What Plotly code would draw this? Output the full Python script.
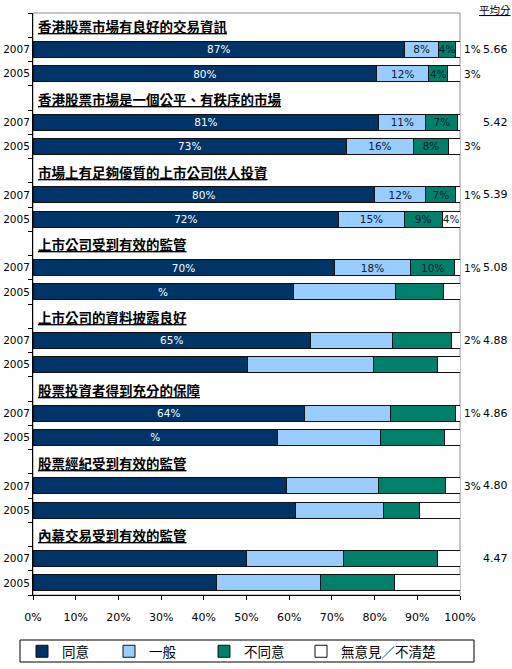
import plotly.graph_objects as go

# ---------------- data ----------------
titles = [
    "香港股票市場有良好的交易資訊",
    "香港股票市場是一個公平、有秩序的市場",
    "市場上有足夠優質的上市公司供人投資",
    "上市公司受到有效的監管",
    "上市公司的資料披露良好",
    "股票投資者得到充分的保障",
    "股票經紀受到有效的監管",
    "內幕交易受到有效的監管",
]
years = ["2007", "2005"]
series_names = ["同意", "一般", "不同意", "無意見／不清楚"]

agree_2007 = [87, 81, 80, 70.5, 65, 63.6, 59.4, 50]
neutral_2007 = [8, 11, 12, 18, 19.3, 20.2, 21.5, 22.8]
disagree_2007 = [4, 7.5, 7, 10.2, 13.7, 15.1, 15.7, 21.9]
noop_2007 = [1, 0.5, 1, 1.3, 2, 1.1, 3.4, 5.3]

agree_2005 = [80.5, 73.4, 71.6, 60.9, 50.2, 57.3, 61.5, 43]
neutral_2005 = [12.2, 15.7, 15.3, 24, 29.5, 24, 20.5, 24.3]
disagree_2005 = [4.4, 8.2, 8.9, 11.2, 15, 15, 8.5, 17.3]
noop_2005 = [2.9, 2.7, 4.2, 3.9, 5.3, 3.7, 9.5, 15.4]

agree_text_2007 = ["87%", "81%", "80%", "70%", "65%", "64%", "", ""]
neutral_text_2007 = ["8%", "11%", "12%", "18%", "", "", "", ""]
disagree_text_2007 = ["4%", "7%", "7%", "10%", "", "", "", ""]
noop_text_2007 = ["", "", "", "", "", "", "", ""]
agree_text_2005 = ["80%", "73%", "72%", "%", "", "%", "", ""]
neutral_text_2005 = ["12%", "16%", "15%", "", "", "", "", ""]
disagree_text_2005 = ["4%", "8%", "9%", "", "", "", "", ""]
noop_text_2005 = ["", "", "4%", "", "", "", "", ""]

noop_out_2007 = ["1%", "", "1%", "1%", "2%", "1%", "3%", ""]
noop_out_2005 = ["3%", "3%", "", "", "", "", "", ""]

mean_scores = ["5.66", "5.42", "5.39", "5.08", "4.88", "4.86", "4.80", "4.47"]
x_ticks = [0, 10, 20, 30, 40, 50, 60, 70, 80, 90, 100]
x_tick_labels = ["0%", "10%", "20%", "30%", "40%", "50%", "60%", "70%", "80%", "90%", "100%"]

colors = ["#003366", "#99CCFF", "#00806A", "#FFFFFF"]
text_colors = ["#FFFFFF", "#0A1A33", "#0A1A33", "#0A1A33"]
legend_widths = [42, 50, 52, 110]

# ---------------- build ----------------
cat_keys, tick_text = [], []
for g in range(len(titles)):
    cat_keys += [f"T{g}", f"{g}|2007", f"{g}|2005"]
    tick_text += ["", "2007", "2005"]

def interleave(a, b):
    out = []
    for u, v in zip(a, b):
        out += [u, v]
    return out

bar_y = interleave([f"{g}|2007" for g in range(len(titles))],
                   [f"{g}|2005" for g in range(len(titles))])
series = [
    (agree_2007, agree_2005, agree_text_2007, agree_text_2005),
    (neutral_2007, neutral_2005, neutral_text_2007, neutral_text_2005),
    (disagree_2007, disagree_2005, disagree_text_2007, disagree_text_2005),
    (noop_2007, noop_2005, noop_text_2007, noop_text_2005),
]

NUM_FONT = "DejaVu Sans"
CJK_FONT = "Noto Sans CJK TC"

fig = go.Figure()
for i, (v7, v5, t7, t5) in enumerate(series):
    fig.add_trace(go.Bar(
        name=series_names[i],
        orientation="h",
        y=bar_y,
        x=interleave(v7, v5),
        text=interleave(t7, t5),
        textposition="inside",
        insidetextanchor="middle",
        textangle=0,
        constraintext="none",
        textfont=dict(family=NUM_FONT, size=10.5, color=text_colors[i]),
        marker=dict(color=colors[i], line=dict(color="#111111", width=1)),
        legendwidth=legend_widths[i],
        hoverinfo="skip",
    ))

annotations = []
for g, t in enumerate(titles):
    annotations.append(dict(
        x=0, y=f"T{g}", xref="x", yref="y", xanchor="left", yanchor="middle",
        xshift=3, yshift=-1, showarrow=False,
        text=f"<b><u>{t}</u></b>",
        font=dict(family=CJK_FONT, size=13.5, color="#000000"),
    ))
    annotations.append(dict(
        x=1.082, y=f"{g}|2007", xref="paper", yref="y", xanchor="center",
        yanchor="middle", showarrow=False, text=mean_scores[g],
        font=dict(family=NUM_FONT, size=11, color="#000000"),
    ))
    for yr, lab in (("2007", noop_out_2007[g]), ("2005", noop_out_2005[g])):
        if lab:
            annotations.append(dict(
                x=1.004, y=f"{g}|{yr}", xref="paper", yref="y", xanchor="left",
                yanchor="middle", showarrow=False, text=lab,
                font=dict(family=NUM_FONT, size=10.5, color="#000000"),
            ))
annotations.append(dict(
    x=1.082, y=1.006, xref="paper", yref="paper", xanchor="center", yanchor="middle",
    showarrow=False, text="<u>平均分</u>",
    font=dict(family=CJK_FONT, size=10.5, color="#000000"),
))

W, H = 512, 669
L, R, T, B = 33, 52, 13, 74
pw, ph = W - L - R, H - T - B

shapes = [
    dict(type="rect", xref="paper", yref="paper", x0=0, x1=1, y0=0, y1=1,
         line=dict(color="#8C8C8C", width=1), layer="below"),
    dict(type="rect", xref="paper", yref="paper",
         x0=(20 - L) / pw, x1=(474 - L) / pw,
         y0=-(662 - (H - B)) / ph, y1=-(640 - (H - B)) / ph,
         line=dict(color="#000000", width=1), fillcolor="rgba(0,0,0,0)"),
]

fig.update_layout(
    width=W, height=H,
    margin=dict(l=L, r=R, t=T, b=B, pad=0, autoexpand=False),
    barmode="stack",
    bargap=0.34,
    paper_bgcolor="#FFFFFF",
    plot_bgcolor="#FFFFFF",
    font=dict(family=NUM_FONT, size=10.5, color="#000000"),
    showlegend=True,
    legend=dict(
        orientation="h", x=(22 - L) / pw, xanchor="left",
        y=-(636 - (H - B)) / ph, yanchor="top",
        font=dict(family=CJK_FONT, size=13.5, color="#000000"),
        bgcolor="rgba(0,0,0,0)", borderwidth=0,
        entrywidthmode="pixels", traceorder="normal",
    ),
    xaxis=dict(
        range=[0, 100], tickmode="array", tickvals=x_ticks, ticktext=x_tick_labels,
        showgrid=False, zeroline=False,
        showline=True, linecolor="#000000", linewidth=1,
        ticks="outside", ticklen=4, tickcolor="#000000",
        ticklabelstandoff=8,
        tickfont=dict(family=NUM_FONT, size=11),
        automargin=False,
        fixedrange=True,
    ),
    yaxis=dict(
        type="category", categoryorder="array", categoryarray=cat_keys,
        tickmode="array", tickvals=cat_keys, ticktext=tick_text,
        range=[len(cat_keys) - 0.5, -0.5],
        tickson="boundaries", ticks="outside", ticklen=4, tickcolor="#000000",
        showgrid=False, zeroline=False,
        showline=True, linecolor="#000000", linewidth=1,
        tickfont=dict(family=NUM_FONT, size=10.5),
        automargin=False,
        fixedrange=True,
    ),
    annotations=annotations,
    shapes=shapes,
)

fig.write_html(
    "out.html",
    config={"displayModeBar": False},
    post_script="document.body.style.margin='0';document.body.style.padding='0';",
)
